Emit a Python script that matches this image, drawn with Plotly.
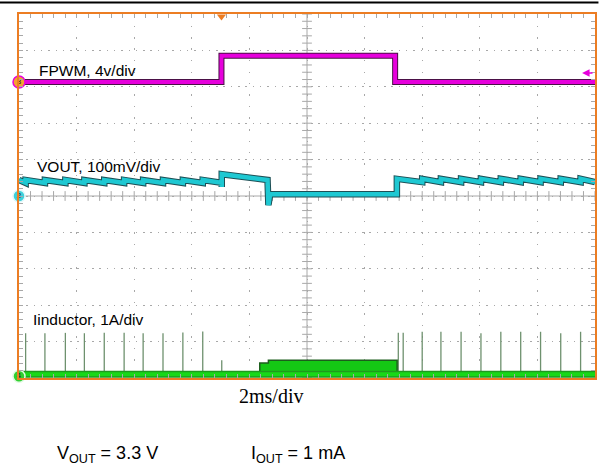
import numpy as np
import plotly.graph_objects as go

# Scope capture: 2 ms/div horizontally (0-20 ms), vertical position in divisions (0 = bottom)
fpwm_t = [0.0, 7.03, 7.03, 13.06, 13.06, 20.0]
fpwm_div = [8.13, 8.13, 8.85, 8.85, 8.13, 8.13]

# inductor current pulses (PFM) before and after the forced-PWM window
pulse_t_pre = [0.23, 0.90, 1.61, 2.27, 2.96, 3.65, 4.31, 5.00, 5.69, 6.38, 7.04]
pulse_peak_pre = [1.23, 1.23, 1.24, 1.23, 1.24, 1.24, 1.23, 1.23, 1.25, 1.28, 0.49]
pulse_t_post = [13.17, 13.34, 14.00, 14.65, 15.35, 16.04, 16.73, 17.42, 18.11, 18.81, 19.50]
pulse_peak_post = [1.24, 1.24, 1.27, 1.27, 1.27, 1.23, 1.27, 1.27, 1.27, 1.23, 1.27]
ind_base = 0.10

# inductor current during forced PWM
ind_fpwm_t = [8.36, 8.36, 8.66, 8.66, 13.13, 13.13]
ind_fpwm_div = [0.10, 0.41, 0.41, 0.49, 0.49, 0.10]

# output voltage ripple: tooth starts and levels
vout_teeth_pre = [0.0, 0.23, 0.90, 1.61, 2.27, 2.96, 3.65, 4.31, 5.00, 5.69, 6.38, 7.04]
vout_teeth_post = [13.12, 14.00, 14.65, 15.35, 16.04, 16.73, 17.42, 18.11, 18.81, 19.50, 20.0]
vout_hi, vout_lo = 5.44, 5.36
vout_fpwm_t = [7.04, 7.04, 8.63, 8.66, 8.72, 13.12]
vout_fpwm_div = [5.25, 5.60, 5.44, 4.75, 5.05, 5.05]

MAGENTA = "#E600DC"
CYAN = "#1EC8D2"
GREEN = "#18D818"
ORANGE = "#EC7D23"
GRID = "#A8A8A8"
FONT = "Liberation Sans, Arial, sans-serif"


def sawtooth(starts, hi, lo):
    xs, ys = [], []
    for a, b in zip(starts[:-1], starts[1:]):
        xs += [a, b]
        ys += [hi, lo]
    return xs, ys


vx1, vy1 = sawtooth(vout_teeth_pre, vout_hi, vout_lo)
vx2, vy2 = sawtooth(vout_teeth_post, vout_hi + 0.03, vout_lo + 0.02)
vout_x = vx1 + vout_fpwm_t + vx2
vout_y = vy1 + vout_fpwm_div + vy2

spike_x, spike_y = [], []
for t, p in zip(pulse_t_pre + pulse_t_post, pulse_peak_pre + pulse_peak_post):
    spike_x += [t, t, None]
    spike_y += [ind_base, p, None]

fig = go.Figure()

# center cross tick marks
cx = np.arange(0, 20.001, 0.4)
cy = np.arange(0, 10.001, 0.2)
fig.add_trace(go.Scatter(x=cx, y=[5] * len(cx), mode="markers",
                         marker=dict(symbol="line-ns", size=7, line=dict(color=GRID, width=1)),
                         hoverinfo="skip"))
fig.add_trace(go.Scatter(x=[10] * len(cy), y=cy, mode="markers",
                         marker=dict(symbol="line-ew", size=7, line=dict(color=GRID, width=1)),
                         hoverinfo="skip"))

# inductor current
fig.add_trace(go.Scatter(x=spike_x, y=spike_y, mode="lines",
                         line=dict(color="#6E916E", width=1.3), hoverinfo="skip"))
fig.add_trace(go.Scatter(x=ind_fpwm_t, y=ind_fpwm_div, mode="lines", fill="toself",
                         fillcolor="#14C814", line=dict(color="#1C5E1C", width=1.5),
                         hoverinfo="skip"))
fig.add_trace(go.Scatter(x=[0, 20], y=[ind_base, ind_base], mode="lines",
                         line=dict(color="#1E9A1E", width=7), hoverinfo="skip"))
fig.add_trace(go.Scatter(x=[0, 20], y=[ind_base, ind_base], mode="lines",
                         line=dict(color=GREEN, width=4), hoverinfo="skip"))

# output voltage
fig.add_trace(go.Scatter(x=vout_x, y=vout_y, mode="lines",
                         line=dict(color="#1D4F55", width=6.5), hoverinfo="skip"))
fig.add_trace(go.Scatter(x=vout_x, y=vout_y, mode="lines",
                         line=dict(color=CYAN, width=4.5), hoverinfo="skip"))

# FPWM pin
fig.add_trace(go.Scatter(x=fpwm_t, y=fpwm_div, mode="lines",
                         line=dict(color="#4A1046", width=6), hoverinfo="skip"))
fig.add_trace(go.Scatter(x=fpwm_t, y=fpwm_div, mode="lines",
                         line=dict(color=MAGENTA, width=4), hoverinfo="skip"))

# channel markers on the left edge
fig.add_trace(go.Scatter(
    x=[0, 0, 0], y=[8.13, 5.0, 0.05], mode="markers+text", text=["3", "2", "4"],
    textposition="middle center", textfont=dict(size=8, color="#222222", family=FONT),
    marker=dict(size=12, color=["#F5A030", "#3ED0DA", "#30D030"],
                line=dict(color=[MAGENTA, "#E0F8FA", "#E0FAE0"], width=1.5)),
    cliponaxis=False, hoverinfo="skip"))

# trigger marker
fig.add_trace(go.Scatter(x=[7.03], y=[9.93], mode="markers",
                         marker=dict(symbol="triangle-down", size=8, color=ORANGE),
                         cliponaxis=False, hoverinfo="skip"))

axis_common = dict(
    showline=True, linecolor=ORANGE, linewidth=2, mirror="allticks",
    showgrid=True, gridcolor=GRID, gridwidth=1,
    ticks="inside", ticklen=4, tickcolor=GRID,
    showticklabels=False, zeroline=False, fixedrange=True,
)
fig.update_xaxes(range=[0, 20], dtick=2, griddash="1.5px,10px",
                 minor=dict(dtick=0.4, ticks="inside", ticklen=4, tickcolor=GRID, showgrid=False),
                 **axis_common)
fig.update_yaxes(range=[0, 10], dtick=1, griddash="1.5px,5.8px",
                 minor=dict(dtick=0.2, ticks="inside", ticklen=4, tickcolor=GRID, showgrid=False),
                 **axis_common)

fig.add_shape(type="line", x0=10, x1=10, y0=0, y1=10, line=dict(color=GRID, width=1), layer="below")
fig.add_shape(type="line", x0=0, x1=20, y0=5, y1=5, line=dict(color=GRID, width=1), layer="below")
# black rule above the capture
fig.add_shape(type="line", xref="paper", yref="paper", x0=-0.033, x1=1.006, y0=1.0316, y1=1.0316,
              line=dict(color="black", width=2))

labels = [
    (0.62, 8.46, "FPWM, 4v/div"),
    (0.57, 5.82, "VOUT, 100mV/div"),
    (0.43, 1.62, "Iinductor, 1A/div"),
]
for x, y, txt in labels:
    fig.add_annotation(x=x, y=y, text=txt, showarrow=False, xanchor="left", yanchor="middle",
                       font=dict(family=FONT, size=15.5, color="black"))

# overrange arrow for channel 3
fig.add_annotation(x=19.55, y=8.38, ax=12, ay=0, text="", showarrow=True, arrowhead=2,
                   arrowsize=1, arrowwidth=1.5, arrowcolor=MAGENTA)

fig.add_annotation(xref="paper", yref="paper", x=0.438, y=-0.049, text="2ms/div", showarrow=False,
                   xanchor="center", yanchor="middle",
                   font=dict(family="Liberation Serif, Times New Roman, serif", size=20, color="black"))
fig.add_annotation(xref="paper", yref="paper", x=0.062, y=-0.209, text="V<sub>OUT</sub> = 3.3 V",
                   showarrow=False, xanchor="left", yanchor="middle",
                   font=dict(family=FONT, size=18, color="black"))
fig.add_annotation(xref="paper", yref="paper", x=0.400, y=-0.209, text="I<sub>OUT</sub> = 1 mA",
                   showarrow=False, xanchor="left", yanchor="middle",
                   font=dict(family=FONT, size=18, color="black"))

fig.update_layout(
    width=600, height=467,
    margin=dict(l=19, r=3, t=14, b=89),
    paper_bgcolor="white", plot_bgcolor="white",
    showlegend=False,
)

fig.write_html("out.html", config={"displayModeBar": False},
               post_script="document.body.style.margin='0';")
